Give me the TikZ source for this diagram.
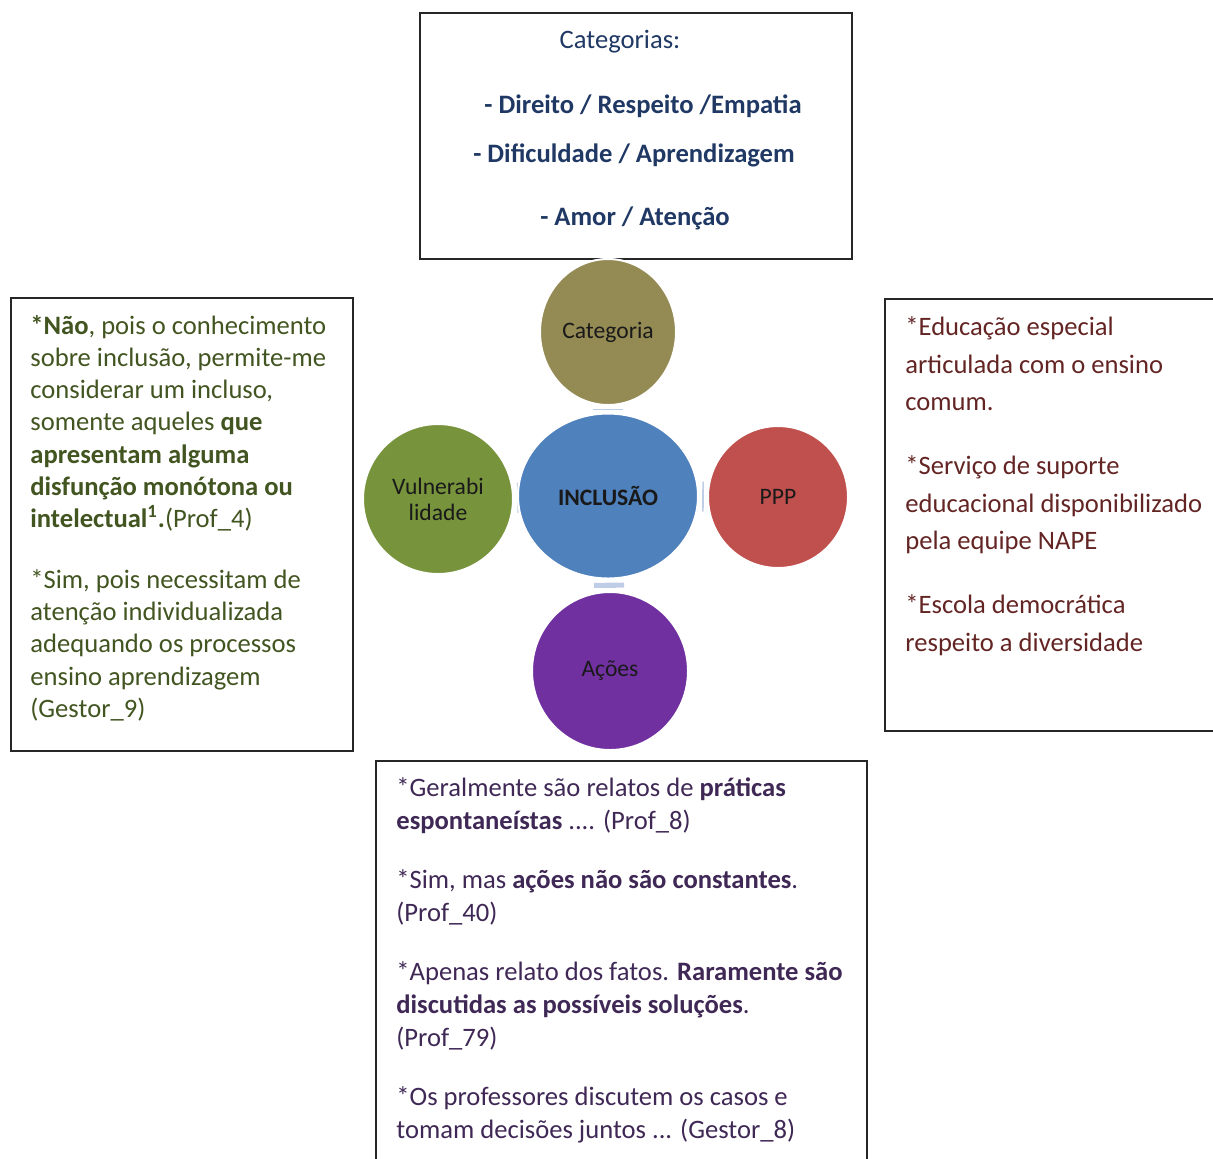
\documentclass[tikz,border=0pt]{standalone}
\usepackage{fontspec}
\setmainfont{Carlito}
\usetikzlibrary{shapes.geometric,backgrounds}
\definecolor{catblue}{RGB}{31,56,100}
\definecolor{leftgreen}{RGB}{66,85,33}
\definecolor{rightred}{RGB}{99,37,35}
\definecolor{bottompurple}{RGB}{63,40,85}
\definecolor{olivefill}{RGB}{148,138,84}
\definecolor{inclblue}{RGB}{79,129,189}
\definecolor{pppred}{RGB}{192,80,77}
\definecolor{vulgreen}{RGB}{119,147,60}
\definecolor{acoespurple}{RGB}{112,48,160}
\definecolor{connblue}{RGB}{192,205,230}

\begin{document}
\begin{tikzpicture}[x=0.5pt,y=-0.5pt,
  panel/.style={draw=black!85,line width=1pt,anchor=north west,inner sep=0pt},
  bubble/.style={ellipse,draw=white,line width=1pt,inner sep=0pt,text=black!90,font=\fontsize{11.8}{13}\selectfont,align=center},
  quote/.style={anchor=north west,inner sep=0pt,align=left},
  catline/.style={anchor=base,inner sep=0pt,text=catblue,font=\fontsize{13.3}{16}\selectfont},
  spoke/.style={connblue,line width=15pt,shorten <=1.6pt,shorten >=1.6pt}]

\clip (0,0) rectangle (1213,1158);

\node[panel,minimum width=216pt,minimum height=123pt] (catbox) at (419,12) {};
\node[panel,minimum width=171pt,minimum height=226.5pt] (profbox) at (10,297) {};
\node[panel,minimum width=166pt,minimum height=216pt] (pppbox) at (884,298) {};
\node[panel,minimum width=245.5pt,minimum height=201pt] (acoesbox) at (375,760) {};

\node[catline] (cathead) at (620,48) {Categorias:};
\node[catline,font=\fontsize{13.3}{16}\selectfont\bfseries] (cat1) at (643,113) {- Direito / Respeito /Empatia};
\node[catline,font=\fontsize{13.3}{16}\selectfont\bfseries] (cat2) at (634,162) {- Dificuldade / Aprendizagem};
\node[catline,font=\fontsize{13.3}{16}\selectfont\bfseries] (cat3) at (635,225) {- Amor / Atenção};

\node[bubble,fill=olivefill,minimum width=68pt,minimum height=73pt] (categoria) at (608,332) {Categoria};
\node[bubble,fill=inclblue,minimum width=90pt,minimum height=82.5pt,font=\fontsize{11.8}{13}\selectfont\bfseries] (inclusao) at (608,496) {INCLUSÃO};
\node[bubble,fill=pppred,minimum width=70pt,minimum height=71pt] (ppp) at (778,497) {PPP};
\node[bubble,fill=vulgreen,minimum width=75pt,minimum height=75pt] (vulner) at (438,499) {Vulnerabi\\lidade};
\node[bubble,fill=acoespurple,minimum width=78pt,minimum height=79pt] (acoes) at (610,671) {Ações};

\begin{scope}[on background layer]
\draw[spoke] (inclusao) -- (categoria);
\draw[spoke] (inclusao) -- (ppp);
\draw[spoke] (inclusao) -- (acoes);
\draw[spoke] (inclusao) -- (vulner);
\end{scope}

\node[quote,text=leftgreen,font=\fontsize{13.3}{16.15}\selectfont] (profquote) at (30,311) {\strut\textbf{*Não}, pois o conhecimento\\
sobre inclusão, permite-me\\
considerar um incluso,\\
somente aqueles \textbf{que}\\
\textbf{apresentam alguma}\\
\textbf{disfunção monótona ou}\\
\textbf{intelectual\textsuperscript{1}.}(Prof\_4)\\[14pt]
*Sim, pois necessitam de\\
atenção individualizada\\
adequando os processos\\
ensino aprendizagem\\
(Gestor\_9)};

\node[quote,text=rightred,font=\fontsize{13.3}{18.75}\selectfont] (pppquote) at (905,309) {\strut*Educação especial\\
articulada com o ensino\\
comum.\\[13.25pt]
*Serviço de suporte\\
educacional disponibilizado\\
pela equipe NAPE\\[13.25pt]
*Escola democrática\\
respeito a diversidade};

\node[quote,text=bottompurple,font=\fontsize{13.3}{16.5}\selectfont] (acoesquote) at (396,773) {\strut*Geralmente são relatos de \textbf{práticas}\\
\textbf{espontaneístas} .... (Prof\_8)\\[13pt]
*Sim, mas \textbf{ações não são constantes}.\\
(Prof\_40)\\[13pt]
*Apenas relato dos fatos. \textbf{Raramente são}\\
\textbf{discutidas as possíveis soluções}.\\
(Prof\_79)\\[13pt]
*Os professores discutem os casos e\\
tomam decisões juntos ... (Gestor\_8)};
\end{tikzpicture}
\end{document}
